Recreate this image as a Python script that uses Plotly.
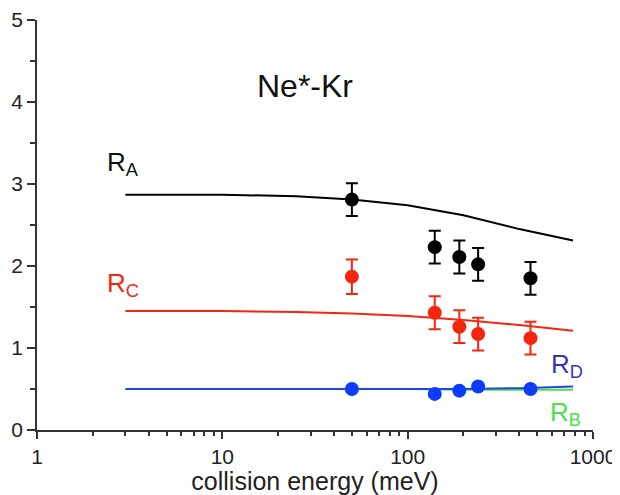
import plotly.graph_objects as go

# Experimental data
energy = [50, 140, 190, 240, 460]
ra_vals = [2.81, 2.23, 2.11, 2.02, 1.85]
ra_err = [0.2, 0.2, 0.2, 0.2, 0.2]
rc_vals = [1.87, 1.43, 1.26, 1.17, 1.12]
rc_err = [0.21, 0.2, 0.2, 0.2, 0.2]
rd_vals = [0.50, 0.44, 0.48, 0.53, 0.50]

# Theory curves
theory_x = [3, 10, 25, 50, 100, 200, 400, 780]
ra_theory = [2.87, 2.87, 2.85, 2.81, 2.74, 2.62, 2.45, 2.31]
rc_theory = [1.45, 1.45, 1.44, 1.42, 1.39, 1.34, 1.28, 1.21]
rd_theory = [0.50, 0.50, 0.50, 0.50, 0.50, 0.50, 0.51, 0.53]
rb_theory = [0.50, 0.50, 0.50, 0.50, 0.50, 0.49, 0.49, 0.49]

BLACK = "#000000"
RED = "#f5260f"
BLUE_LINE = "#1f48e0"
BLUE_MARK = "#0d3cff"
BLUE_TEXT = "#3434b8"
GREEN = "#4ae24a"
FONT = "Liberation Sans, Arial, sans-serif"

fig = go.Figure()
fig.add_trace(go.Scatter(x=theory_x, y=rb_theory, mode="lines", line=dict(color=GREEN, width=2)))
fig.add_trace(go.Scatter(x=theory_x, y=rd_theory, mode="lines", line=dict(color=BLUE_LINE, width=2)))
fig.add_trace(go.Scatter(x=theory_x, y=rc_theory, mode="lines", line=dict(color=RED, width=2)))
fig.add_trace(go.Scatter(x=theory_x, y=ra_theory, mode="lines", line=dict(color=BLACK, width=2)))

fig.add_trace(go.Scatter(x=energy, y=ra_vals, mode="markers",
                         marker=dict(color=BLACK, size=14),
                         error_y=dict(type="data", array=ra_err, color=BLACK, thickness=2, width=6)))
fig.add_trace(go.Scatter(x=energy, y=rc_vals, mode="markers",
                         marker=dict(color=RED, size=14),
                         error_y=dict(type="data", array=rc_err, color=RED, thickness=2, width=6)))
fig.add_trace(go.Scatter(x=energy, y=rd_vals, mode="markers",
                         marker=dict(color=BLUE_MARK, size=14)))

axis_common = dict(showgrid=False, zeroline=False, showline=True, linecolor="#333333", linewidth=1.5,
                   ticks="outside", tickcolor="#333333", tickwidth=1.5, automargin=False,
                   tickfont=dict(family=FONT, size=21, color="#222222"))

fig.update_xaxes(type="log", range=[0, 3], tickvals=[1, 10, 100, 1000], ticktext=["1", "10", "100", "1000"],
                 ticklen=7,
                 minor=dict(ticks="outside", ticklen=4, tickcolor="#333333", tickwidth=1.5,
                            tickvals=[2, 3, 4, 5, 6, 7, 8, 9, 20, 30, 40, 50, 60, 70, 80, 90,
                                      200, 300, 400, 500, 600, 700, 800, 900]),
                 title=dict(text="collision energy (meV)", font=dict(family=FONT, size=25, color="#222222"),
                            standoff=4),
                 **axis_common)
fig.update_yaxes(range=[0, 5], dtick=1, ticklen=8,
                 minor=dict(ticks="outside", ticklen=5, dtick=0.5, tickcolor="#333333", tickwidth=1.5),
                 **axis_common)

ann_font = lambda c, s: dict(family=FONT, size=s, color=c)
fig.add_annotation(x=1.446, y=4.2, xref="x", yref="y", text="Ne*-Kr", showarrow=False,
                   font=ann_font("#111111", 32))
fig.add_annotation(x=0.365, y=3.25, xref="x", yref="y", text="R<sub>A</sub>", showarrow=False,
                   xanchor="left", font=ann_font("#111111", 26))
fig.add_annotation(x=0.365, y=1.78, xref="x", yref="y", text="R<sub>C</sub>", showarrow=False,
                   xanchor="left", font=ann_font(RED, 26))
fig.add_annotation(x=2.765, y=0.79, xref="x", yref="y", text="R<sub>D</sub>", showarrow=False,
                   xanchor="left", font=ann_font(BLUE_TEXT, 26))
fig.add_annotation(x=2.755, y=0.20, xref="x", yref="y", text="R<sub>B</sub>", showarrow=False,
                   xanchor="left", font=ann_font(GREEN, 26))

# The page body adds an 8px offset, so the figure is sized to fill the rest of the window.
fig.update_layout(width=612, height=487, showlegend=False,
                  margin=dict(l=29, r=27, t=12, b=65),
                  paper_bgcolor="white", plot_bgcolor="white")

fig.write_html("out.html")
